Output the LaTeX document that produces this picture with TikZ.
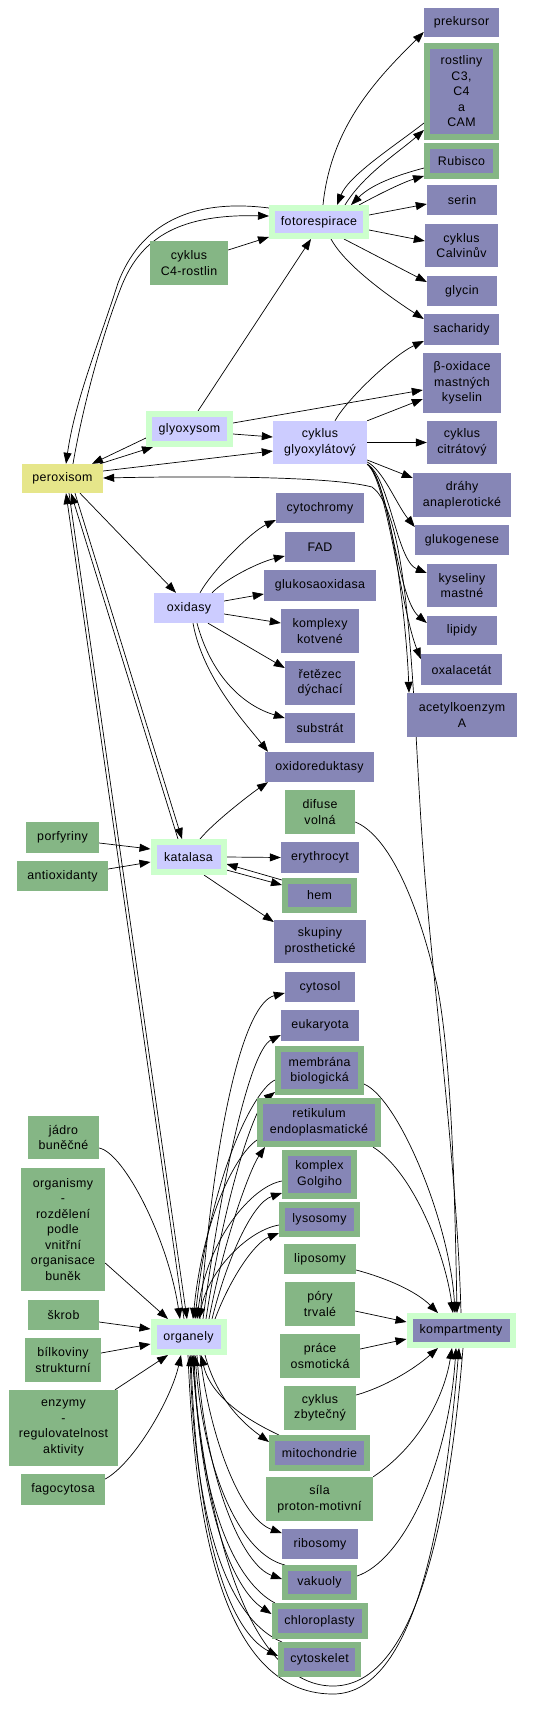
\documentclass[tikz,border=0pt]{standalone}
\usepackage{fontspec}
\setmainfont{Liberation Sans}[LetterSpace=3]
\usetikzlibrary{arrows.meta}
\definecolor{cPu}{RGB}{134,134,182}
\definecolor{cGr}{RGB}{133,182,133}
\definecolor{cLv}{RGB}{204,204,255}
\definecolor{cLg}{RGB}{204,255,204}
\definecolor{cYe}{RGB}{230,230,138}
\newcommand\gvf{\fontsize{12.4}{15.5}\selectfont}
\pgfdeclarelayer{bg}
\pgfsetlayers{bg,main}
\tikzset{
 nd/.style={inner sep=0pt, align=center, font=\gvf},
 pu/.style={nd, fill=cPu},
 puo/.style={nd, fill=cPu, draw=cGr, line width=6pt},
 puoL/.style={nd, fill=cPu, draw=cLg, line width=6pt},
 gr/.style={nd, fill=cGr},
 lv/.style={nd, fill=cLv},
 lvo/.style={nd, fill=cLv, draw=cLg, line width=6pt},
 ye/.style={nd, fill=cYe},
 arr/.style={line width=0.7pt, -{Triangle[length=11pt,width=8pt]}}
}
\begin{document}
\begin{tikzpicture}[x=1pt,y=-1pt]
\useasboundingbox (0,0) rectangle (540,1710);
% nodes
\node[pu,minimum width=75pt,minimum height=29pt] (pre) at (461.5,22.5) {prekursor};
\node[puo,minimum width=69pt,minimum height=91pt] (ros) at (461.5,91.5) {rostliny\\C3,\\C4\\a\\CAM};
\node[puo,minimum width=69pt,minimum height=30pt] (rub) at (461.5,161) {Rubisco};
\node[pu,minimum width=70pt,minimum height=30pt] (ser) at (462,200) {serin};
\node[lvo,minimum width=94pt,minimum height=28pt] (fot) at (319,222) {fotorespirace};
\node[pu,minimum width=73pt,minimum height=43pt] (calv) at (461.5,245.5) {cyklus\\Calvinův};
\node[gr,minimum width=78pt,minimum height=44pt] (c4) at (189,263) {cyklus\\C4-rostlin};
\node[pu,minimum width=70pt,minimum height=30pt] (gly) at (462,291) {glycin};
\node[pu,minimum width=75pt,minimum height=31pt] (sach) at (461.5,329.5) {sacharidy};
\node[pu,minimum width=78pt,minimum height=60pt] (bo) at (462,383) {β-oxidace\\mastných\\kyselin};
\node[lvo,minimum width=81pt,minimum height=30pt] (glx) at (189.5,429) {glyoxysom};
\node[lv,minimum width=94pt,minimum height=43pt] (cgl) at (320,442.5) {cyklus\\glyoxylátový};
\node[pu,minimum width=70pt,minimum height=43pt] (cit) at (462,442.5) {cyklus\\citrátový};
\node[ye,minimum width=81pt,minimum height=29pt] (per) at (62.5,478.5) {peroxisom};
\node[pu,minimum width=98pt,minimum height=44pt] (dra) at (462,495) {dráhy\\anaplerotické};
\node[pu,minimum width=88pt,minimum height=30pt] (cch) at (320,508) {cytochromy};
\node[pu,minimum width=94pt,minimum height=30pt] (glg) at (462,540) {glukogenese};
\node[pu,minimum width=70pt,minimum height=30pt] (fad) at (320,547) {FAD};
\node[pu,minimum width=70pt,minimum height=43pt] (kys) at (462,585.5) {kyseliny\\mastné};
\node[pu,minimum width=112pt,minimum height=31pt] (gox) at (320,585.5) {glukosaoxidasa};
\node[lv,minimum width=70pt,minimum height=30pt] (oxi) at (189,608) {oxidasy};
\node[pu,minimum width=78pt,minimum height=44pt] (kok) at (320,631) {komplexy\\kotvené};
\node[pu,minimum width=70pt,minimum height=29pt] (lip) at (462,630.5) {lipidy};
\node[pu,minimum width=81pt,minimum height=31pt] (oxa) at (461.5,669.5) {oxalacetát};
\node[pu,minimum width=70pt,minimum height=44pt] (rez) at (320,683) {řetězec\\dýchací};
\node[pu,minimum width=110pt,minimum height=44pt] (acet) at (462,715) {acetylkoenzym\\A};
\node[pu,minimum width=70pt,minimum height=30pt] (sub) at (320,728) {substrát};
\node[pu,minimum width=109pt,minimum height=30pt] (ore) at (319.5,767) {oxidoreduktasy};
\node[gr,minimum width=70pt,minimum height=44pt] (dif) at (320,812) {difuse\\volná};
\node[gr,minimum width=73pt,minimum height=31pt] (por) at (62.5,837.5) {porfyriny};
\node[lvo,minimum width=70pt,minimum height=30pt] (kat) at (188.5,857) {katalasa};
\node[pu,minimum width=78pt,minimum height=31pt] (ery) at (320,857.5) {erythrocyt};
\node[gr,minimum width=91pt,minimum height=30pt] (ant) at (62.5,876) {antioxidanty};
\node[puo,minimum width=69pt,minimum height=29pt] (hem) at (319.5,895.5) {hem};
\node[pu,minimum width=92pt,minimum height=43pt] (skp) at (320,941.5) {skupiny\\prosthetické};
\node[pu,minimum width=70pt,minimum height=30pt] (cyt) at (320,987) {cytosol};
\node[pu,minimum width=78pt,minimum height=31pt] (euk) at (320,1025.5) {eukaryota};
\node[puo,minimum width=83pt,minimum height=43pt] (mem) at (319.5,1070.5) {membrána\\biologická};
\node[puo,minimum width=118pt,minimum height=43pt] (ret) at (319,1122.5) {retikulum\\endoplasmatické};
\node[gr,minimum width=71pt,minimum height=43pt] (jad) at (63.5,1137.5) {jádro\\buněčné};
\node[puo,minimum width=69pt,minimum height=43pt] (gol) at (319.5,1174.5) {komplex\\Golgiho};
\node[gr,minimum width=84pt,minimum height=123pt] (orgm) at (63,1229.5) {organismy\\-\\rozdělení\\podle\\vnitřní\\organisace\\buněk};
\node[puo,minimum width=75pt,minimum height=29pt] (lys) at (319.5,1219.5) {lysosomy};
\node[gr,minimum width=72pt,minimum height=30pt] (lpo) at (320,1259) {liposomy};
\node[gr,minimum width=70pt,minimum height=44pt] (pory) at (320,1304) {póry\\trvalé};
\node[gr,minimum width=71pt,minimum height=30pt] (skr) at (63.5,1315) {škrob};
\node[puoL,minimum width=103pt,minimum height=29pt] (kmp) at (461,1330.5) {kompartmenty};
\node[lvo,minimum width=70pt,minimum height=30pt] (org) at (188.5,1337) {organely};
\node[gr,minimum width=80pt,minimum height=44pt] (pra) at (320,1356) {práce\\osmotická};
\node[gr,minimum width=76pt,minimum height=44pt] (bil) at (63,1360) {bílkoviny\\strukturní};
\node[gr,minimum width=72pt,minimum height=44pt] (zby) at (320,1408) {cyklus\\zbytečný};
\node[gr,minimum width=109pt,minimum height=76pt] (enz) at (63.5,1428) {enzymy\\-\\regulovatelnost\\aktivity};
\node[puo,minimum width=95pt,minimum height=30pt] (mit) at (319.5,1453) {mitochondrie};
\node[gr,minimum width=84pt,minimum height=31pt] (fag) at (63,1489.5) {fagocytosa};
\node[gr,minimum width=107pt,minimum height=44pt] (sila) at (319.5,1499) {síla\\proton-motivní};
\node[pu,minimum width=76pt,minimum height=30pt] (rib) at (320,1544) {ribosomy};
\node[puo,minimum width=69pt,minimum height=29pt] (vak) at (319.5,1582.5) {vakuoly};
\node[puo,minimum width=90pt,minimum height=30pt] (chl) at (319.5,1621) {chloroplasty};
\node[puo,minimum width=77pt,minimum height=29pt] (csk) at (319.5,1659.5) {cytoskelet};
\begin{pgfonlayer}{bg}
% fotorespirace group
\draw[arr] (fot.north -| 323,0) .. controls +(8,-80) and +(-45,45) .. (pre.west |- 0,32);
\draw[arr] (fot.north -| 345,0) .. controls +(18,-30) and +(-25,22) .. (ros.west |- 0,130);
\draw[arr] (ros.west |- 0,123) .. controls +(-28,22) and +(12,-30) .. (fot.north -| 337,0);
\draw[arr] (rub.west |- 0,168) .. controls +(-30,8) and +(20,-20) .. (fot.north -| 351,0);
\draw[arr] (fot.north -| 359,0) .. controls +(22,-12) and +(-20,6) .. (rub.west |- 0,176);
\draw[arr] (fot.east |- 0,215) -- (ser.west |- 0,204);
\draw[arr] (fot.east |- 0,230) -- (calv.west |- 0,241);
\draw[arr] (fot.south -| 344,0) -- (gly.west |- 0,282);
\draw[arr] (fot.south -| 331,0) .. controls +(15,28) and +(-28,-18) .. (sach.west |- 0,319);
\draw[arr] (c4.east |- 0,250) -- (fot.west |- 0,237);
\draw[arr] (glx.north -| 198,0) -- (fot.south -| 311,0);
\draw[arr] (fot.west |- 0,208) .. controls (190,198) and (140,225) .. (118,283) .. controls (100,340) and (75,400) .. (per.north -| 66,0);
\draw[arr] (per.north -| 73,0) .. controls (84,400) and (104,330) .. (122,285) .. controls (142,236) and (182,214) .. (fot.west |- 0,216);
% glyoxysom / cyklus glyoxylatovy
\draw[arr] (glx.west |- 0,438) -- (per.north -| 92,0);
\draw[arr] (per.north -| 100,0) -- (glx.south -| 153,0);
\draw[arr] (glx.east |- 0,434) -- (cgl.west |- 0,437);
\draw[arr] (per.east |- 0,471) -- (cgl.west |- 0,451);
\draw[arr] (glx.east |- 0,423) -- (bo.west |- 0,390);
\draw[arr] (cgl.north east) -- (bo.west |- 0,399);
\draw[arr] (cgl.north -| 335,0) .. controls +(12,-22) and +(-30,14) .. (sach.west |- 0,341);
\draw[arr] (cgl.east) -- (cit.west);
\draw[arr] (cgl.east |- 0,460) -- (dra.west |- 0,478);
\draw[arr] (cgl.east |- 0,462) .. controls +(16,8) and +(-18,-22) .. (glg.west |- 0,527);
\draw[arr] (cgl.south east) .. controls +(22,12) and +(-30,-12) .. (kys.west |- 0,573);
\draw[arr] (cgl.south east) .. controls +(22,14) and +(-30,-25) .. (lip.west |- 0,623);
\draw[arr] (cgl.south east) .. controls +(20,16) and +(-20,-50) .. (oxa.west |- 0,659);
\draw[arr] (cgl.south east) .. controls +(25,20) and +(-2,-60) .. (acet.north -| 409,0);
% kompartmenty -> peroxisom
\draw[arr] (kmp.north -| 461,0) .. controls +(-4,-150) and +(8,120) .. (423,850) .. controls (413,720) and (412,515) .. (372,487) .. controls (330,476) and (200,476) .. (per.east |- 0,478);
% into kompartmenty
\draw[arr] (dif.east |- 0,822) .. controls +(30,12) and +(-22,-95) .. (437,985) .. controls +(15,75) and +(-2,-110) .. (kmp.north -| 457,0);
\draw[arr] (mem.east |- 0,1084) .. controls +(35,15) and +(-5,-90) .. (kmp.north -| 455,0);
\draw[arr] (ret.south -| 373,0) .. controls +(40,25) and +(-8,-60) .. (kmp.north -| 453,0);
\draw[arr] (lpo.east |- 0,1270) .. controls +(30,8) and +(-22,-22) .. (kmp.north -| 438,0);
\draw[arr] (pory.east |- 0,1311) -- (kmp.west |- 0,1322);
\draw[arr] (pra.east |- 0,1349) -- (kmp.west |- 0,1339);
\draw[arr] (zby.east |- 0,1395) .. controls +(28,-8) and +(-25,22) .. (kmp.south -| 438,0);
\draw[arr] (sila.north east) .. controls +(45,-30) and +(-8,50) .. (kmp.south -| 452,0);
\draw[arr] (vak.east |- 0,1576) .. controls +(45,-15) and +(-8,120) .. (kmp.south -| 456,0);
% U loops
\draw[arr] (org.south -| 188,0) .. controls +(6,145) and +(-118,0) .. (333,1694) .. controls +(87,0) and +(-13,152) .. (kmp.south -| 459,0);
\draw[arr] (kmp.south -| 463,0) .. controls +(-12,150) and +(88,0) .. (333,1686) .. controls +(-92,0) and +(12,145) .. (org.south -| 192,0);
% organely top
\draw[arr] (org.north -| 200,0) .. controls +(15,-200) and +(-40,10) .. (cyt.west |- 0,993);
\draw[arr] (org.north -| 203,0) .. controls +(20,-150) and +(-30,15) .. (euk.west |- 0,1035);
\draw[arr] (org.north -| 206,0) .. controls +(20,-130) and +(-20,15) .. (mem.west |- 0,1092);
\draw[arr] (mem.west |- 0,1080) .. controls +(-22,10) and +(15,-140) .. (org.north -| 195,0);
\draw[arr] (org.north -| 209,0) .. controls +(15,-80) and +(-15,22) .. (ret.south -| 265,0);
\draw[arr] (ret.west |- 0,1140) .. controls +(-22,15) and +(10,-100) .. (org.north -| 193,0);
\draw[arr] (org.north -| 212,0) .. controls +(15,-60) and +(-30,10) .. (gol.west |- 0,1193);
\draw[arr] (gol.west |- 0,1181) .. controls +(-30,5) and +(10,-80) .. (org.north -| 197,0);
\draw[arr] (org.north -| 215,0) .. controls +(15,-40) and +(-25,10) .. (lys.west |- 0,1233);
\draw[arr] (lys.west |- 0,1225) .. controls +(-30,5) and +(10,-50) .. (org.north -| 199,0);
% peroxisom links
\draw[arr] (org.north -| 184,0) -- (per.south -| 66,0);
\draw[arr] (per.south -| 69,0) -- (org.north -| 187,0);
\draw[arr] (per.south -| 75,0) -- (kat.north -| 182,0);
\draw[arr] (kat.north -| 178,0) -- (per.south -| 71,0);
\draw[arr] (per.south -| 80,0) -- (oxi.north -| 176,0);
% oxidasy
\draw[arr] (oxi.north -| 200,0) .. controls +(12,-22) and +(-25,12) .. (cch.west |- 0,520);
\draw[arr] (oxi.north -| 212,0) .. controls +(15,-15) and +(-25,6) .. (fad.west |- 0,556);
\draw[arr] (oxi.east |- 0,601) -- (gox.west |- 0,594);
\draw[arr] (oxi.east |- 0,614) -- (kok.west |- 0,623);
\draw[arr] (oxi.south -| 208,0) -- (rez.west |- 0,668);
\draw[arr] (oxi.south -| 197,0) .. controls +(15,55) and +(-40,-12) .. (sub.west |- 0,718);
\draw[arr] (oxi.south -| 193,0) .. controls +(10,55) and +(-22,-28) .. (ore.north -| 268,0);
\draw[arr] (kat.north -| 200,0) .. controls +(15,-18) and +(-15,10) .. (ore.south -| 268,0);
% katalasa
\draw[arr] (por.east |- 0,843) -- (kat.west |- 0,849);
\draw[arr] (ant.east |- 0,869) -- (kat.west |- 0,862);
\draw[arr] (kat.east) -- (ery.west);
\draw[arr] (kat.east |- 0,870) -- (hem.west |- 0,885);
\draw[arr] (hem.west |- 0,880) -- (kat.east |- 0,864);
\draw[arr] (kat.south -| 204,0) -- (skp.west |- 0,922);
% organely left
\draw[arr] (jad.east |- 0,1148) .. controls +(25,5) and +(-12,-80) .. (org.north -| 180,0);
\draw[arr] (orgm.east |- 0,1263) -- (org.north -| 168,0);
\draw[arr] (skr.east |- 0,1322) -- (org.west |- 0,1329);
\draw[arr] (bil.east |- 0,1353) -- (org.west |- 0,1344);
\draw[arr] (enz.north -| 115,0) -- (org.south -| 168,0);
\draw[arr] (fag.east |- 0,1479) .. controls +(28,-15) and +(-10,45) .. (org.south -| 181,0);
% organely bottom
\draw[arr] (org.south -| 205,0) .. controls +(12,45) and +(-25,-18) .. (mit.west |- 0,1442);
\draw[arr] (mit.north -| 279,0) .. controls +(-32,-15) and +(10,42) .. (org.south -| 201,0);
\draw[arr] (org.south -| 200,0) .. controls +(10,85) and +(-40,-14) .. (rib.west |- 0,1533);
\draw[arr] (org.south -| 197,0) .. controls +(8,125) and +(-40,-14) .. (vak.west |- 0,1579);
\draw[arr] (vak.north -| 285,0) .. controls +(-42,-10) and +(10,125) .. (org.south -| 195,0);
\draw[arr] (org.south -| 194,0) .. controls +(5,155) and +(-38,-25) .. (chl.west |- 0,1614);
\draw[arr] (chl.north -| 275,0) .. controls +(-38,-20) and +(8,155) .. (org.south -| 193,0);
\draw[arr] (org.south -| 191,0) .. controls +(5,185) and +(-48,-25) .. (csk.west |- 0,1656);
\draw[arr] (csk.north -| 282,0) .. controls +(-48,-20) and +(6,185) .. (org.south -| 190,0);
\end{pgfonlayer}
\end{tikzpicture}
\end{document}
